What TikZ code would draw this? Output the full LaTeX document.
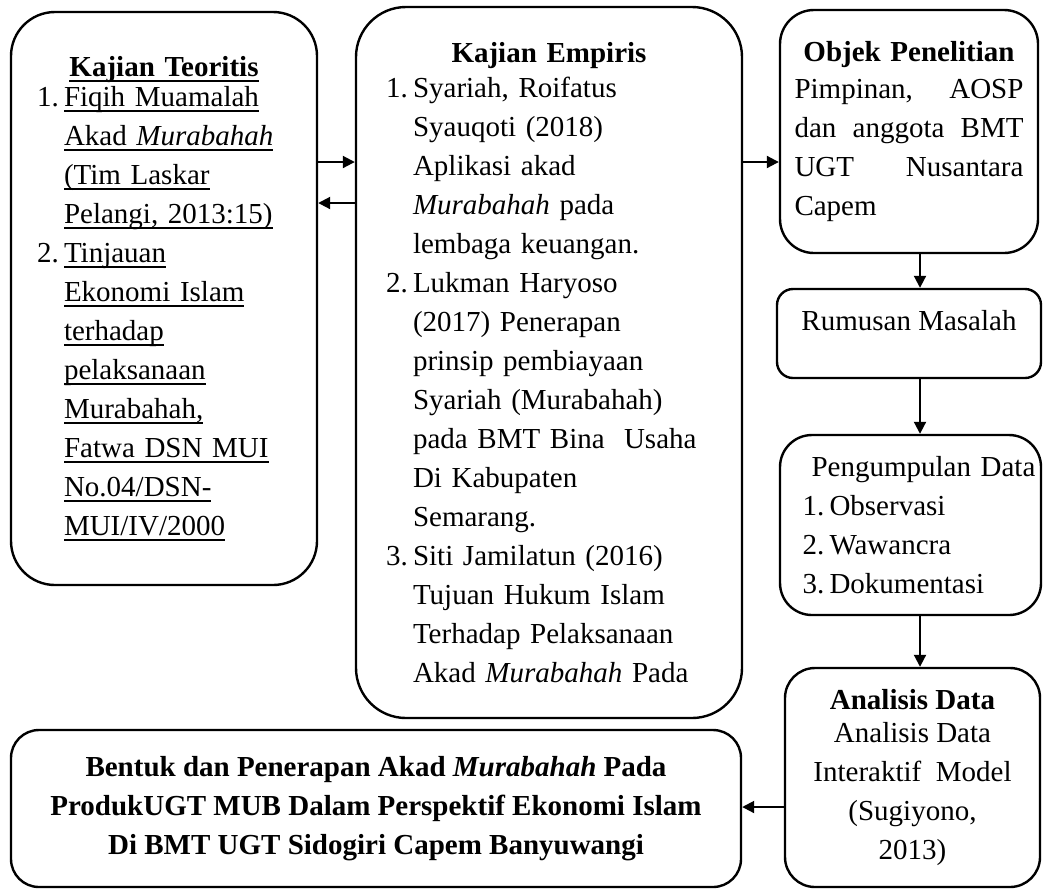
\documentclass[tikz,border=0pt]{standalone}
\usepackage{fontspec}
\setmainfont{Liberation Serif}
\usetikzlibrary{arrows.meta}

\newcommand{\butir}[2]{\makebox[13.5pt][l]{#1}#2}
\newcommand{\lanjut}[1]{\hspace*{13.5pt}#1}
\newsavebox{\kotakgaris}
\newcommand{\garis}[1]{\sbox{\kotakgaris}{#1}\rlap{\rule[-3pt]{\wd\kotakgaris}{0.9pt}}\usebox{\kotakgaris}}

\tikzset{
  kotak/.style = {draw, line width=1.2pt, inner sep=0pt, rounded corners=#1,
                  font=\fontsize{14.5}{19.5}\selectfont},
  kotak/.default = 12pt,
  ukuran/.style 2 args = {minimum width=#1*0.5pt, minimum height=#2*0.5pt},
  panah/.style = {line width=1pt, -{Triangle[length=6pt,width=6pt]}}
}

\begin{document}
\begin{tikzpicture}[x=0.5pt,y=-0.5pt]
  \useasboundingbox (0,0) rectangle (1043,890);
  % 箭头用的辅助坐标
  \coordinate (ya) at (0,162);
  \coordinate (yb) at (0,203);
  \coordinate (yc) at (0,807);
  \coordinate (xa) at (920,0);
  % 左边：理论
  \node[kotak=22pt, ukuran={306}{573}, text width=127pt, align=left] (teori) at (164,298.5) {%
    \makebox[\linewidth]{\textbf{\garis{Kajian Teoritis}}}\\[-4.5pt]
    \butir{1.}{\garis{Fiqih Muamalah}}\\
    \lanjut{\garis{Akad \textit{Murabahah}}}\\
    \lanjut{\garis{(Tim Laskar}}\\
    \lanjut{\garis{Pelangi, 2013:15)}}\\
    \butir{2.}{\garis{Tinjauan}}\\
    \lanjut{\garis{Ekonomi Islam}}\\
    \lanjut{\garis{terhadap}}\\
    \lanjut{\garis{pelaksanaan}}\\
    \lanjut{\garis{Murabahah,}}\\
    \lanjut{\garis{Fatwa DSN MUI}}\\
    \lanjut{\garis{No.04/DSN-}}\\
    \lanjut{\garis{MUI/IV/2000}}};
  % 中间：实证
  \node[kotak=25pt, ukuran={386}{711}, text width=163pt, align=left] (empiris) at (549,362.5) {%
    \makebox[\linewidth]{\textbf{Kajian Empiris}}\\[-2pt]
    \butir{1.}{Syariah, Roifatus}\\
    \lanjut{Syauqoti (2018)}\\
    \lanjut{Aplikasi akad}\\
    \lanjut{\textit{Murabahah} pada}\\
    \lanjut{lembaga keuangan.}\\
    \butir{2.}{Lukman Haryoso}\\
    \lanjut{(2017) Penerapan}\\
    \lanjut{prinsip pembiayaan}\\
    \lanjut{Syariah (Murabahah)}\\
    \lanjut{pada BMT Bina\ \ Usaha}\\
    \lanjut{Di Kabupaten}\\
    \lanjut{Semarang.}\\
    \butir{3.}{Siti Jamilatun (2016)}\\
    \lanjut{Tujuan Hukum Islam}\\
    \lanjut{Terhadap Pelaksanaan}\\
    \lanjut{Akad \textit{Murabahah} Pada}};
  % 右边一列
  \node[kotak=17pt, ukuran={258}{243}, text width=114.5pt, align=left] (objek) at (909,131.5) {%
    \makebox[\linewidth]{\textbf{Objek Penelitian}}\\[-1pt]
    Pimpinan,\hfill AOSP\\
    dan\hfill anggota\hfill BMT\\
    UGT\hfill Nusantara\\
    Capem};
  \node[kotak=8pt, ukuran={264}{89}, text depth=13pt] (rumusan) at (909,333.5) {Rumusan Masalah};
  \node[kotak=16pt, ukuran={261}{180}, text width=126pt, align=left] (kumpul) at (910.5,525) {%
    \hspace*{13.5pt}\mbox{Pengumpulan Data}\\
    \hspace*{9pt}\butir{1.}{Observasi}\\
    \hspace*{9pt}\butir{2.}{Wawancra}\\
    \hspace*{9pt}\butir{3.}{Dokumentasi}};
  \node[kotak=15pt, ukuran={255}{219}, align=center] (analisis) at (912.5,777.5) {%
    \textbf{Analisis Data}\\[-3pt]
    Analisis Data\\
    Interaktif\ \ Model\\
    (Sugiyono,\\
    2013)};
  % 下边：结果
  \node[kotak=14pt, ukuran={730}{157}, align=center] (hasil) at (376,808.5) {%
    \textbf{Bentuk dan Penerapan Akad \textit{Murabahah} Pada}\\
    \textbf{ProdukUGT MUB Dalam Perspektif Ekonomi Islam}\\
    \textbf{Di BMT UGT Sidogiri Capem Banyuwangi}};
  % 箭头
  \draw[panah] (teori.east |- ya) -- (empiris.west |- ya);
  \draw[panah] (empiris.west |- yb) -- (teori.east |- yb);
  \draw[panah] (empiris.east |- ya) -- (objek.west |- ya);
  \draw[panah] (xa |- objek.south) -- (xa |- rumusan.north);
  \draw[panah] (xa |- rumusan.south) -- (xa |- kumpul.north);
  \draw[panah] (xa |- kumpul.south) -- (xa |- analisis.north);
  \draw[panah] (analisis.west |- yc) -- (hasil.east |- yc);
\end{tikzpicture}
\end{document}
